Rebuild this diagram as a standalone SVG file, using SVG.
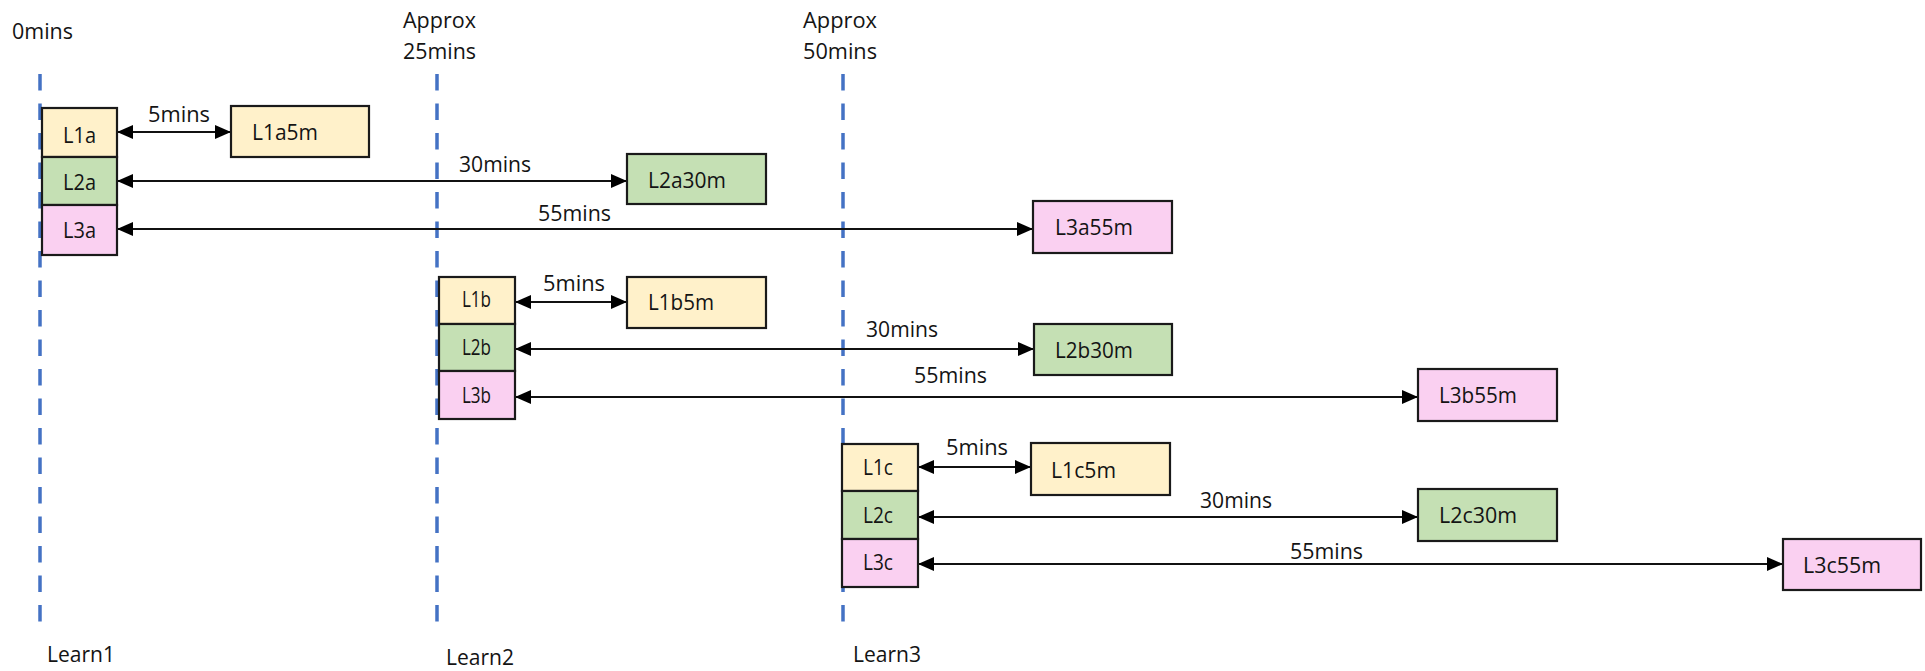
<svg xmlns="http://www.w3.org/2000/svg" width="1925" height="671" viewBox="0 0 1925 671">
  <style>
    .t { font-family: "Open Sans", "Noto Sans", "Liberation Sans", sans-serif; font-size: 21.5px; fill: #141414; }
    .tl { stroke: #4472C4; stroke-width: 3.5; stroke-dasharray: 16.5 13; fill: none; }
    .box { stroke: #1a1a1a; stroke-width: 2.2; }
    .y { fill: #FFF1CA; }
    .g { fill: #C5E0B4; }
    .p { fill: #FAD0F1; }
    .arr { stroke: #111; stroke-width: 2; fill: none; marker-start: url(#ah); marker-end: url(#ah); }
  </style>
  <defs>
    <marker id="ah" markerUnits="userSpaceOnUse" markerWidth="17" markerHeight="15" refX="16" refY="7" orient="auto-start-reverse">
      <path d="M0,0 L16,7 L0,14 z" fill="#000"/>
    </marker>
  </defs>
  <rect width="1925" height="671" fill="#fff"/>

  <!-- timeline markers -->
  <g id="timelines">
    <line class="tl" x1="40" y1="74" x2="40" y2="622"/>
    <line class="tl" x1="437" y1="74" x2="437" y2="622"/>
    <line class="tl" x1="843" y1="74" x2="843" y2="622"/>
    <text class="t" x="12" y="39" textLength="61" lengthAdjust="spacingAndGlyphs">0mins</text>
    <text class="t" x="403" y="28" textLength="73" lengthAdjust="spacingAndGlyphs">Approx</text>
    <text class="t" x="403" y="59" textLength="73" lengthAdjust="spacingAndGlyphs">25mins</text>
    <text class="t" x="803" y="28" textLength="74" lengthAdjust="spacingAndGlyphs">Approx</text>
    <text class="t" x="803" y="59" textLength="74" lengthAdjust="spacingAndGlyphs">50mins</text>
    <text class="t" x="47" y="662" textLength="68" lengthAdjust="spacingAndGlyphs">Learn1</text>
    <text class="t" x="446" y="665" textLength="68" lengthAdjust="spacingAndGlyphs">Learn2</text>
    <text class="t" x="853" y="662" textLength="68" lengthAdjust="spacingAndGlyphs">Learn3</text>
  </g>

  <!-- intervals between each learning step and its review -->
  <g id="connectors">
    <line class="arr" x1="117" y1="132" x2="231" y2="132"/>
    <line class="arr" x1="117" y1="181" x2="627" y2="181"/>
    <line class="arr" x1="117" y1="229" x2="1033" y2="229"/>
    <line class="arr" x1="515" y1="302" x2="627" y2="302"/>
    <line class="arr" x1="515" y1="349" x2="1034" y2="349"/>
    <line class="arr" x1="515" y1="397" x2="1418" y2="397"/>
    <line class="arr" x1="918" y1="467" x2="1031" y2="467"/>
    <line class="arr" x1="918" y1="517" x2="1418" y2="517"/>
    <line class="arr" x1="918" y1="564" x2="1783" y2="564"/>
    <text class="t" x="148" y="122" textLength="62" lengthAdjust="spacingAndGlyphs">5mins</text>
    <text class="t" x="459" y="172" textLength="72" lengthAdjust="spacingAndGlyphs">30mins</text>
    <text class="t" x="538" y="221" textLength="73" lengthAdjust="spacingAndGlyphs">55mins</text>
    <text class="t" x="543" y="291" textLength="62" lengthAdjust="spacingAndGlyphs">5mins</text>
    <text class="t" x="866" y="337" textLength="72" lengthAdjust="spacingAndGlyphs">30mins</text>
    <text class="t" x="914" y="383" textLength="73" lengthAdjust="spacingAndGlyphs">55mins</text>
    <text class="t" x="946" y="455" textLength="62" lengthAdjust="spacingAndGlyphs">5mins</text>
    <text class="t" x="1200" y="508" textLength="72" lengthAdjust="spacingAndGlyphs">30mins</text>
    <text class="t" x="1290" y="559" textLength="73" lengthAdjust="spacingAndGlyphs">55mins</text>
  </g>

  <!-- Learn1 steps -->
  <g id="L1a"><rect class="box y" x="42" y="108" width="75" height="49"/><text class="t" x="63" y="143" textLength="33" lengthAdjust="spacingAndGlyphs">L1a</text></g>
  <g id="L2a"><rect class="box g" x="42" y="157" width="75" height="48"/><text class="t" x="63" y="190" textLength="33" lengthAdjust="spacingAndGlyphs">L2a</text></g>
  <g id="L3a"><rect class="box p" x="42" y="205" width="75" height="50"/><text class="t" x="63" y="238" textLength="33" lengthAdjust="spacingAndGlyphs">L3a</text></g>
  <g id="L1a5m"><rect class="box y" x="231" y="106" width="138" height="51"/><text class="t" x="252" y="140" textLength="66" lengthAdjust="spacingAndGlyphs">L1a5m</text></g>
  <g id="L2a30m"><rect class="box g" x="627" y="154" width="139" height="50"/><text class="t" x="648" y="188" textLength="78" lengthAdjust="spacingAndGlyphs">L2a30m</text></g>
  <g id="L3a55m"><rect class="box p" x="1033" y="201" width="139" height="52"/><text class="t" x="1055" y="235" textLength="78" lengthAdjust="spacingAndGlyphs">L3a55m</text></g>

  <!-- Learn2 steps -->
  <g id="L1b"><rect class="box y" x="439" y="277" width="76" height="47"/><text class="t" x="462" y="307" textLength="29" lengthAdjust="spacingAndGlyphs">L1b</text></g>
  <g id="L2b"><rect class="box g" x="439" y="324" width="76" height="47"/><text class="t" x="462" y="355" textLength="29" lengthAdjust="spacingAndGlyphs">L2b</text></g>
  <g id="L3b"><rect class="box p" x="439" y="371" width="76" height="48"/><text class="t" x="462" y="403" textLength="29" lengthAdjust="spacingAndGlyphs">L3b</text></g>
  <g id="L1b5m"><rect class="box y" x="627" y="277" width="139" height="51"/><text class="t" x="648" y="310" textLength="66" lengthAdjust="spacingAndGlyphs">L1b5m</text></g>
  <g id="L2b30m"><rect class="box g" x="1034" y="324" width="138" height="51"/><text class="t" x="1055" y="358" textLength="78" lengthAdjust="spacingAndGlyphs">L2b30m</text></g>
  <g id="L3b55m"><rect class="box p" x="1418" y="369" width="139" height="52"/><text class="t" x="1439" y="403" textLength="78" lengthAdjust="spacingAndGlyphs">L3b55m</text></g>

  <!-- Learn3 steps -->
  <g id="L1c"><rect class="box y" x="842" y="444" width="76" height="47"/><text class="t" x="863" y="475" textLength="30" lengthAdjust="spacingAndGlyphs">L1c</text></g>
  <g id="L2c"><rect class="box g" x="842" y="491" width="76" height="48"/><text class="t" x="863" y="523" textLength="30" lengthAdjust="spacingAndGlyphs">L2c</text></g>
  <g id="L3c"><rect class="box p" x="842" y="539" width="76" height="48"/><text class="t" x="863" y="570" textLength="30" lengthAdjust="spacingAndGlyphs">L3c</text></g>
  <g id="L1c5m"><rect class="box y" x="1031" y="443" width="139" height="52"/><text class="t" x="1051" y="478" textLength="65" lengthAdjust="spacingAndGlyphs">L1c5m</text></g>
  <g id="L2c30m"><rect class="box g" x="1418" y="489" width="139" height="52"/><text class="t" x="1439" y="523" textLength="78" lengthAdjust="spacingAndGlyphs">L2c30m</text></g>
  <g id="L3c55m"><rect class="box p" x="1783" y="539" width="138" height="51"/><text class="t" x="1803" y="573" textLength="78" lengthAdjust="spacingAndGlyphs">L3c55m</text></g>
</svg>
